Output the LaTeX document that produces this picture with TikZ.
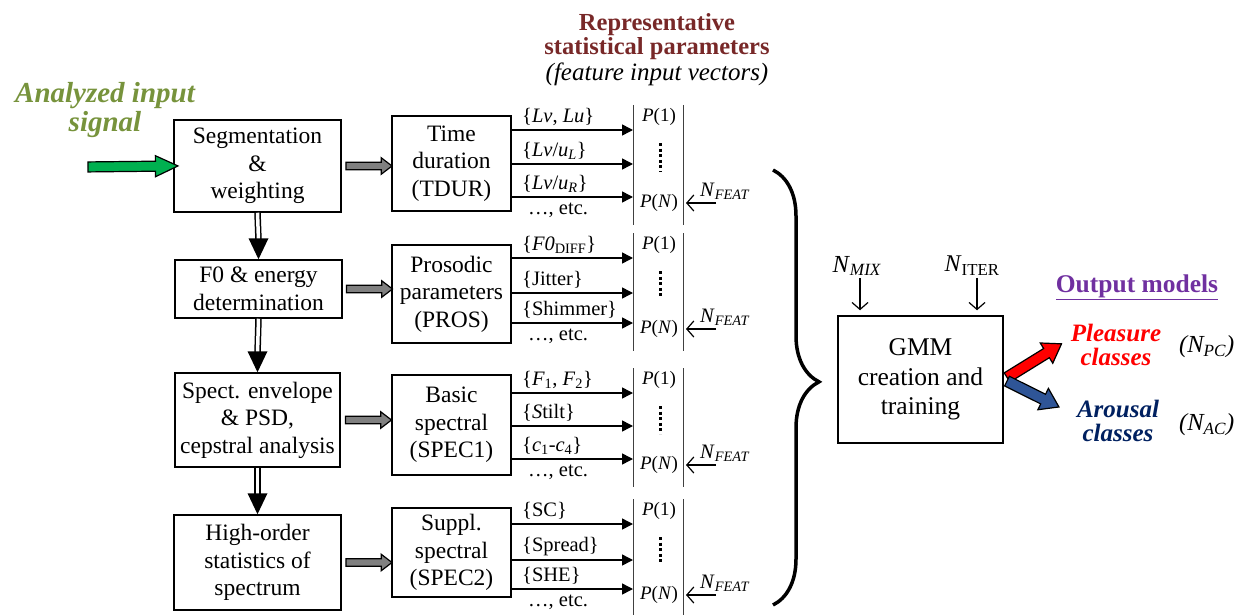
\documentclass[tikz,border=0pt]{standalone}
\usepackage{fontspec}
\setmainfont{Liberation Serif}
\usetikzlibrary{arrows.meta,shapes.arrows,decorations.pathreplacing,calc}
\definecolor{inputgreen}{RGB}{119,147,60}
\definecolor{arrowgreen}{RGB}{0,176,80}
\definecolor{titlered}{RGB}{120,40,40}
\definecolor{outpurple}{RGB}{112,48,160}
\definecolor{arousalblue}{RGB}{0,32,96}
\definecolor{arrowblue}{RGB}{47,85,151}
\tikzstyle{block}=[draw,line width=1.5pt,align=center,inner sep=0pt,font=\fontsize{23.5}{27.5}\selectfont]
\tikzstyle{feat}=[draw,line width=1.5pt,-{Triangle[length=11pt,width=11pt]}]
\tikzstyle{flabel}=[font=\fontsize{20.5}{22}\selectfont,anchor=west,inner sep=0pt]
\tikzstyle{pvec}=[font=\fontsize{19}{20}\selectfont,inner sep=0pt]
\tikzstyle{vline}=[draw,black!75,line width=1pt]
\tikzstyle{thin arrow}=[draw,line width=1.2pt,-{Straight Barb[length=7pt,width=16pt]}]
\tikzstyle{block arrow}=[single arrow,draw,line width=1.2pt,inner xsep=0pt,sloped,midway]
\tikzstyle{gray arrow}=[block arrow,fill=black!50,inner ysep=3.2pt,single arrow head extend=4.5pt,single arrow tip angle=75,minimum height=46pt]
\tikzstyle{dbl}=[draw,double,double distance=3.5pt,line width=1.5pt]
\tikzstyle{caption}=[align=center,inner sep=0pt]

\begin{document}
\begin{tikzpicture}[x=1pt,y=-1pt]
  \useasboundingbox (0,0) rectangle (1236,615);
    % Left column of processing blocks
    \node[block,minimum width=167pt,minimum height=92pt] (seg) at (257.5,166) {Segmentation\\\&\\weighting};
    \node[block,minimum width=167pt,minimum height=58pt] (f0) at (258.5,289) {F0 \& energy\\determination};
    \node[block,minimum width=165pt,minimum height=94pt] (spec) at (257.5,420) {Spect. envelope\\\& PSD,\\cepstral analysis};
    \node[block,minimum width=167pt,minimum height=95pt] (hos) at (257.5,562.5) {High-order\\statistics of\\spectrum};
    % Parameter groups
    \node[block,minimum width=119pt,minimum height=95pt] (tdur) at (451.5,163.5) {Time\\duration\\(TDUR)};
    \node[block,minimum width=119pt,minimum height=98pt] (pros) at (451.5,294) {Prosodic\\parameters\\(PROS)};
    \node[block,minimum width=119pt,minimum height=100pt] (spec1) at (451.5,425) {Basic\\spectral\\(SPEC1)};
    \node[block,minimum width=119pt,minimum height=89pt] (spec2) at (451.5,552.5) {Suppl.\\spectral\\(SPEC2)};
    % Input signal
    \node[caption,font=\fontsize{29}{29}\selectfont\bfseries\itshape,text=inputgreen] (inlabel) at (105,110) {Analyzed input\\signal};
    \coordinate (in) at (82,167);
    \path (in) -- (seg.west) node[block arrow,fill=arrowgreen,inner ysep=4.4pt,single arrow head extend=5.5pt,single arrow tip angle=50,minimum height=90pt] {};
    % Double arrows down the left column
    \foreach \a/\b in {seg/f0,spec/hos,f0/spec} {
      \draw[dbl] (\a.south) -- ($(\b.north)+(0,-19)$);
      \fill (\b.north) -- ++(-10,-21) -- ++(20,0) -- cycle;
    }
    % Gray arrows to the parameter groups
    \foreach \a/\b in {seg/tdur,f0/pros,spec/spec1,hos/spec2}
      \path (\a.east) -- (\b.west |- \a.east) node[gray arrow] {};
    % Feature vectors of each group
    \foreach \bx/\ya/\yb/\yc/\la/\lb/\lc in {
        tdur/130/164/197/{\{\textit{Lv}, \textit{Lu}\}}/{\{\textit{Lv}/\textit{u}\textsubscript{\textit{L}}\}}/{\{\textit{Lv}/\textit{u}\textsubscript{\textit{R}}\}},
        pros/258/293/323/{\{\textit{F0}\textsubscript{DIFF}\}}/{\{Jitter\}}/{\{Shimmer\}},
        spec1/393/426/459/{\{\textit{F}\textsubscript{1}, \textit{F}\textsubscript{2}\}}/{\{\textit{S}tilt\}}/{\{\textit{c}\textsubscript{1}-\textit{c}\textsubscript{4}\}},
        spec2/524/560/589/{\{SC\}}/{\{Spread\}}/{\{SHE\}}} {
      \coordinate (\bx-lt) at (633,\ya-25);
      \coordinate (\bx-lb) at (633,\yc+28);
      \coordinate (\bx-rt) at (683,\ya-25);
      \coordinate (\bx-rb) at (683,\yc+28);
      \draw[vline] (\bx-lt) -- (\bx-lb);
      \draw[vline] (\bx-rt) -- (\bx-rb);
      \coordinate (\bx-a) at (633,\ya);
      \coordinate (\bx-b) at (633,\yb);
      \coordinate (\bx-c) at (633,\yc);
      \draw[feat] (\bx.east |- \bx-a) -- (\bx-a);
      \draw[feat] (\bx.east |- \bx-b) -- (\bx-b);
      \draw[feat] (\bx.east |- \bx-c) -- (\bx-c);
      \node[flabel] (\bx-la) at (522,\ya-13) {\la};
      \node[flabel] (\bx-lb) at (522,\yb-13) {\lb};
      \node[flabel] (\bx-lc) at (522,\yc-13) {\lc};
      \node[flabel] (\bx-etc) at (528,\yc+13) {…, etc.};
      \node[pvec] (\bx-p1) at (659,\ya-13) {\textit{P}(1)};
      \node[pvec] (\bx-pn) at (659,\yc+6) {\textit{P}(\textit{N})};
      \draw[line width=3pt,dash pattern=on 3pt off 2.6pt] ($(\bx-p1)+(1,26)$) -- ($(\bx-pn)+(1,-31)$);
      \node[flabel] (\bx-nf) at (700,\yc-6) {\textit{N}\textsubscript{\textit{FEAT}}};
      \coordinate (\bx-ns) at (716,\yc+6);
      \draw[thin arrow] (\bx-ns) -- (686,\yc+6);
    }
    % Title of the feature vectors
    \node[caption,font=\fontsize{24.5}{24}\selectfont\bfseries,text=titlered] (title) at (657,37) {Representative\\statistical parameters};
    \node[caption,font=\fontsize{25}{25}\selectfont\itshape] (subtitle) at (657,74) {(feature input vectors)};
    % Brace collecting all vectors
    \coordinate (bt) at (773,170);
    \coordinate (bb) at (773,605);
    \draw[decorate,decoration={brace,amplitude=46pt,aspect=0.487},line width=3.5pt] (bt) -- (bb);
    % GMM block and its inputs
    \node[block,minimum width=165pt,minimum height=127pt,font=\fontsize{25.5}{29.5}\selectfont] (gmm) at (920.5,379.5) {GMM\\creation and\\training};
    \node[pvec,font=\fontsize{24.5}{21}\selectfont] (nmix) at (857,266) {\textit{N}\textsubscript{\textit{MIX}}};
    \node[pvec,font=\fontsize{24}{21}\selectfont] (niter) at (972,266) {\textit{N}\textsubscript{ITER}};
    \draw[thin arrow,shorten >=5pt] ($(nmix.south)+(3,2)$) -- ($(gmm.north -| nmix.south)+(3,0)$);
    \draw[thin arrow,shorten >=5pt] ($(niter.south)+(5,2)$) -- ($(gmm.north -| niter.south)+(5,0)$);
    % Output models
    \node[caption,font=\fontsize{25.5}{22}\selectfont\bfseries,text=outpurple] (outlabel) at (1137,287) {\underline{Output models}};
    \node[caption,font=\fontsize{25}{24}\selectfont\bfseries\itshape,text=red] (pleasure) at (1116,345) {Pleasure\\classes};
    \node[caption,font=\fontsize{25}{24}\selectfont\bfseries\itshape,text=arousalblue] (arousal) at (1118,421) {Arousal\\classes};
    \node[font=\fontsize{24.5}{21}\selectfont\itshape,anchor=west,inner sep=0pt] (npc) at (1179,347) {(\textit{N}\textsubscript{\textit{PC}})};
    \node[font=\fontsize{24.5}{21}\selectfont\itshape,anchor=west,inner sep=0pt] (nac) at (1179,425) {(\textit{N}\textsubscript{\textit{AC}})};
    \coordinate (pltip) at (1058,346);
    \coordinate (artip) at (1055,405);
    \path (gmm.east) -- (pltip) node[block arrow,fill=red,inner ysep=4.8pt,single arrow head extend=6.5pt,single arrow tip angle=68,minimum height=64pt] {};
    \path (gmm.east) -- (artip) node[block arrow,fill=arrowblue,inner ysep=4.8pt,single arrow head extend=6.5pt,single arrow tip angle=68,minimum height=58pt] {};
\end{tikzpicture}
\end{document}
